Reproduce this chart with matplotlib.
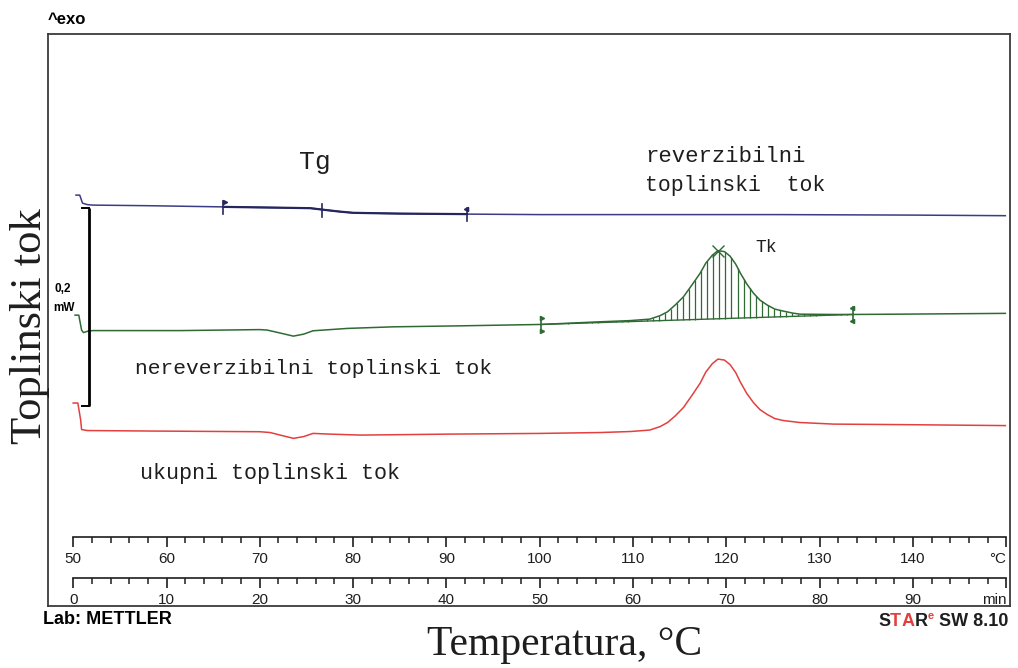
import numpy as np
import matplotlib
matplotlib.use("Agg")
import matplotlib.pyplot as plt

# ---------------------------------------------------------------
# DSC thermogram (METTLER STARe print-out)
# x: temperature in °C, y: heat flow in mW (curves stacked as printed)
# ---------------------------------------------------------------

# reversible heat flow (blue)
rev_T = [50.3, 50.7, 51.0, 51.5, 52.1, 58.0, 66.1, 72.0, 75.4, 77.2, 78.6,
         80.0, 85.0, 92.2, 100.1, 110.0, 125.8, 140.0, 149.9]
rev_hf = [0.4152, 0.4152, 0.4071, 0.4056, 0.4051, 0.4045, 0.4033, 0.4025,
          0.4020, 0.4000, 0.3985, 0.3973, 0.3965, 0.3960, 0.3955, 0.3955,
          0.3955, 0.3950, 0.3944]

# non-reversible heat flow (green)
nrev_T = [50.2, 50.6, 50.9, 51.1, 51.6, 52.1, 61.5, 70.0, 70.8, 72.2, 73.6,
          74.7, 75.7, 79.4, 84.3, 91.5, 100.1, 106.5, 109.7, 111.8, 112.9,
          113.7, 114.5, 115.4, 116.3, 117.2, 117.8, 118.5, 119.1, 119.8,
          120.4, 121.0, 121.5, 122.2, 122.9, 123.6, 124.4, 125.2, 126.1,
          127.1, 127.9, 131.5, 133.6, 138.6, 149.9]
nrev_hf = [0.2939, 0.2939, 0.2788, 0.2763, 0.2778, 0.2783, 0.2783, 0.2793,
           0.2788, 0.2758, 0.2727, 0.2747, 0.2781, 0.2805, 0.2821, 0.2831,
           0.2845, 0.2872, 0.2884, 0.2899, 0.2934, 0.2973, 0.3040, 0.3124,
           0.3242, 0.3364, 0.3465, 0.3545, 0.3591, 0.3581, 0.3535, 0.3455,
           0.3364, 0.3253, 0.3162, 0.3091, 0.3040, 0.3000, 0.2980, 0.2960,
           0.2949, 0.2946, 0.2946, 0.2949, 0.2957]

# total heat flow (red)
tot_T = [50.0, 50.5, 50.8, 50.9, 51.5, 58.3, 70.0, 71.1, 72.4, 73.6, 74.7,
         75.7, 77.5, 80.8, 90.4, 100.1, 106.5, 109.7, 111.8, 112.9, 113.7,
         114.5, 115.4, 116.3, 117.2, 117.8, 118.5, 119.1, 119.8, 120.4,
         121.0, 121.5, 122.2, 122.9, 123.6, 124.4, 125.2, 126.1, 127.9,
         131.5, 138.6, 149.9]
tot_hf = [0.2051, 0.2051, 0.1879, 0.1783, 0.1773, 0.1768, 0.1761, 0.1753,
          0.1722, 0.1694, 0.1712, 0.1744, 0.1737, 0.1727, 0.1737, 0.1744,
          0.1753, 0.1763, 0.1778, 0.1813, 0.1854, 0.1919, 0.2005, 0.2126,
          0.2253, 0.2364, 0.2449, 0.2495, 0.2485, 0.2439, 0.2359, 0.2263,
          0.2146, 0.2056, 0.1985, 0.1934, 0.1894, 0.1874, 0.1854, 0.1838,
          0.1833, 0.1823]

# evaluation marks
tg_marks = [66.1, 76.7, 92.2]          # glass transition: onset, midpoint, end
tk_limits = [100.1, 133.6]             # crystallisation peak integration limits
tk_base = [0.2845, 0.2946]             # integration baseline at the limits
tk_peak = 119.1

# 0,2 mW scale bar
scale_T = 51.7
scale_top = 0.402
scale_mw = 0.2

# rulers
temp_major = list(range(50, 151, 10))
temp_minor = list(range(50, 151, 2))
time_major = list(range(0, 101, 10))
time_minor = list(range(0, 101, 2))

BLUE = "#3b3b86"
GREEN = "#2f6a34"
RED = "#e2403f"
INK = "#1e1e1e"

W, H = 1018, 668


def px(x, y):
    # pixel position on the sheet -> figure fraction
    return x / W, 1 - y / H


fig = plt.figure(figsize=(W / 100, H / 100), dpi=100)
fig.patch.set_facecolor("white")

# -----------------------------
# main frame with the curves
# -----------------------------
left, bottom = px(48, 606)
width = (1010 - 48) / W
height = (606 - 34) / H
ax = fig.add_axes([left, bottom, width, height])
ax.set_xlim(47.3, 150.4)
ax.set_ylim(0, 0.578)
ax.set_xticks([])
ax.set_yticks([])
for s in ax.spines.values():
    s.set_linewidth(1.3)
    s.set_color("#3a3a3a")

ax.plot(rev_T, rev_hf, color=BLUE, lw=1.1)
ax.plot(nrev_T, nrev_hf, color=GREEN, lw=1.1)
ax.plot(tot_T, tot_hf, color=RED, lw=1.1)

# Tg evaluation: thicker stretch and the three marks
seg = [(t, v) for t, v in zip(rev_T, rev_hf) if tg_marks[0] <= t <= tg_marks[2]]
seg_T = [tg_marks[0]] + [s[0] for s in seg] + [tg_marks[2]]
seg_v = list(np.interp(seg_T, rev_T, rev_hf))
ax.plot(seg_T, seg_v, color="#26265e", lw=1.6)
for i, t in enumerate(tg_marks):
    v = np.interp(t, rev_T, rev_hf)
    ax.plot([t, t], [v - 0.007, v + 0.006], color="#26265e", lw=1.2)
    if i == 0:
        ax.plot(t + 0.12, v + 0.005, marker=">", ms=3, color="#26265e")
    elif i == 2:
        ax.plot(t - 0.12, v + 0.005, marker="<", ms=3, color="#26265e")

# crystallisation peak: baseline, hatching, limits and maximum
ax.plot(tk_limits, tk_base, color=GREEN, lw=1.0)
hatch_T = np.arange(tk_limits[0] + 0.3, tk_limits[1], 0.65)
hatch_top = np.interp(hatch_T, nrev_T, nrev_hf)
hatch_bot = np.interp(hatch_T, tk_limits, tk_base)
ax.vlines(hatch_T, hatch_bot, np.maximum(hatch_top, hatch_bot), color=GREEN, lw=0.9)
for t, b, mk, dx in zip(tk_limits, tk_base, [">", "<"], [0.15, -0.15]):
    ax.plot([t, t], [b - 0.008, b + 0.008], color=GREEN, lw=1.2)
    ax.plot([t + dx, t + dx], [b - 0.007, b + 0.007], ls="none", marker=mk, ms=3, color=GREEN)
ax.plot(tk_peak, np.interp(tk_peak, nrev_T, nrev_hf), marker="x", ms=8, mew=1.0, color=GREEN)

# scale bar
ax.plot([scale_T, scale_T], [scale_top - scale_mw, scale_top], color="black", lw=2.0,
        solid_capstyle="butt")
for yv in (scale_top, scale_top - scale_mw):
    ax.plot([scale_T - 0.75, scale_T], [yv, yv], color="black", lw=1.4)

# -----------------------------
# rulers (temperature and time)
# -----------------------------
def add_ruler(y_line, lo, hi, major, minor, unit):
    r = fig.add_axes([left, 1 - y_line / H, width, 0.0005])
    r.set_xlim(lo, hi)
    r.patch.set_visible(False)
    for k in ("top", "left", "right"):
        r.spines[k].set_visible(False)
    r.spines["bottom"].set_bounds(major[0], major[-1])
    r.spines["bottom"].set_linewidth(1.2)
    r.spines["bottom"].set_color(INK)
    r.set_yticks([])
    r.set_xticks(major)
    r.set_xticks(minor, minor=True)
    r.set_xticklabels([str(m) for m in major[:-1]] + [""], family="Liberation Sans")
    r.tick_params(which="major", length=7, width=1.2, color=INK, direction="out",
                  labelsize=11, pad=4, labelcolor=INK)
    r.tick_params(which="minor", length=4, width=1.1, color=INK, direction="out")
    r.annotate(unit, xy=(major[-1], 0), xycoords=("data", "axes fraction"),
               xytext=(0, -11), textcoords="offset points", ha="right", va="top",
               fontsize=11, family="Liberation Sans", color=INK, annotation_clip=False)
    return r


add_ruler(537, 47.3, 150.4, temp_major, temp_minor, "°C")
add_ruler(578, 47.3 - 50, 150.4 - 50, time_major, time_minor, "min")

# -----------------------------
# texts
# -----------------------------
mono = "Liberation Mono"
fig.text(*px(645, 156), "reverzibilni", family=mono, fontsize=16, color=INK, va="center")
fig.text(*px(645, 186), "toplinski  tok", family=mono, fontsize=15.5, color=INK, va="center")
fig.text(*px(135, 368), "nereverzibilni toplinski tok", family=mono, fontsize=15.3,
         color=INK, va="center")
fig.text(*px(140, 473), "ukupni toplinski tok", family=mono, fontsize=15.7, color=INK,
         va="center")
fig.text(*px(315, 162), "Tg", family=mono, fontsize=19, color=INK, ha="center", va="center")
fig.text(*px(755, 248), "Tk", family=mono, fontsize=13, color=INK, va="center")

fig.text(*px(63, 289), "0,2", fontsize=8.5, fontweight="bold", family="Liberation Sans",
         ha="center", va="center")
fig.text(*px(64, 308), "mW", fontsize=8.5, fontweight="bold", family="Liberation Sans",
         ha="center", va="center")

fig.text(*px(48, 20), "^exo", fontsize=12, fontweight="bold", family="Liberation Sans",
         va="center")
fig.text(*px(43, 620), "Lab: METTLER", fontsize=13, fontweight="bold",
         family="Liberation Sans", va="center")

# STARe SW 8.10, built right to left so it ends at the frame edge
y_base = 1 - 626 / H
bold = dict(fontsize=13, fontweight="bold", family="Liberation Sans")
prev = fig.text(1008 / W, y_base, " SW 8.10", ha="right", va="baseline", color=INK, **bold)
prev = ax.annotate("e", xy=(0, y_base + 0.011), xycoords=(prev, "figure fraction"),
                   ha="right", va="baseline", color=RED, fontsize=8, fontweight="bold",
                   family="Liberation Sans", annotation_clip=False)
for ch, col in [("R", INK), ("A", RED), ("T", RED), ("S", INK)]:
    prev = ax.annotate(ch, xy=(0, y_base), xycoords=(prev, "figure fraction"),
                       ha="right", va="baseline", color=col, annotation_clip=False, **bold)

fig.text(*px(565, 645), "Temperatura, °C", family="Liberation Serif", fontsize=30,
         ha="center", va="center", color=INK)
fig.text(*px(30, 326), "Toplinski tok", family="Liberation Serif", fontsize=32,
         rotation=90, ha="center", va="center", color=INK)

fig.savefig("out.png", dpi=100)
